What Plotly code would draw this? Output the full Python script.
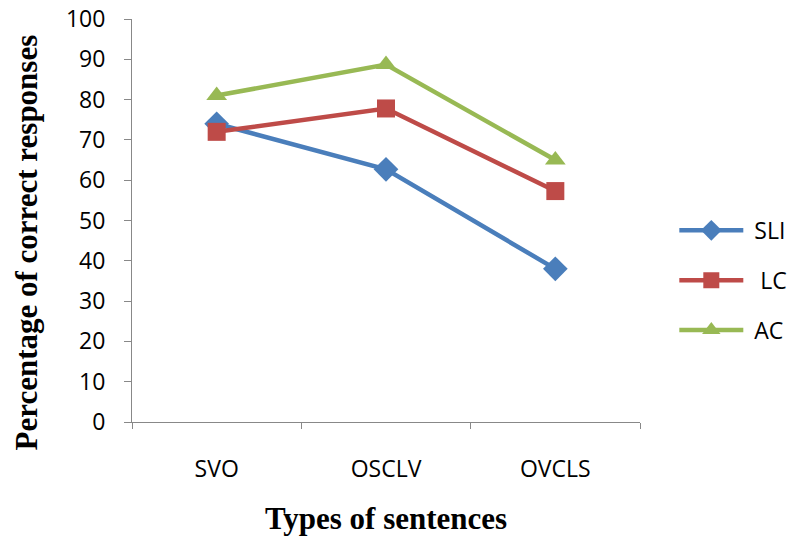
import plotly.graph_objects as go

# Sentence types and percentage of correct responses per group
categories = ["SVO", "OSCLV", "OVCLS"]
sli_values = [74.0, 62.7, 38.0]
lc_values = [72.0, 77.8, 57.3]
ac_values = [81.0, 88.7, 65.0]
y_ticks = [0, 10, 20, 30, 40, 50, 60, 70, 80, 90, 100]

series = [
    ("\u00a0SLI", sli_values, "#4A7EBB", "diamond", 19),
    ("\u00a0\u00a0LC", lc_values, "#BE4B48", "square", 18),
    ("\u00a0AC", ac_values, "#98B954", "triangle-up", 18),
]

fig = go.Figure()
for i, (name, vals, color, symbol, size) in enumerate(series):
    fig.add_trace(go.Scatter(
        x=categories, y=vals, name=name, mode="lines+markers",
        line=dict(color=color, width=4.5),
        marker=dict(symbol=symbol, size=size, color=color),
        legendgroup=f"g{i}",
    ))

sans = "Open Sans, Liberation Sans, sans-serif"
axis_font = dict(family=sans, size=23, color="#000000")
title_font = dict(family="Liberation Serif, Times New Roman, serif", size=31, color="#000000")

fig.update_layout(
    width=798, height=536,
    margin=dict(l=132, r=158, t=19, b=114, autoexpand=False),
    paper_bgcolor="white", plot_bgcolor="white",
    showlegend=True,
    legend=dict(
        xref="container", yref="container",
        x=0.845, y=0.477, xanchor="left", yanchor="middle",
        font=dict(family=sans, size=23, color="#000000"),
        tracegroupgap=17, itemwidth=64, bgcolor="rgba(0,0,0,0)",
    ),
    xaxis=dict(
        type="category", range=[-0.5, 2.5], automargin=False,
        showline=True, linecolor="#888888", linewidth=1,
        ticks="outside", tickson="boundaries", ticklen=6, tickcolor="#888888",
        tickfont=axis_font, ticklabelstandoff=26,
        showgrid=False, zeroline=False,
        title=dict(text="<b>Types of sentences</b>", font=title_font, standoff=28),
    ),
    yaxis=dict(
        range=[0, 100], tickvals=y_ticks, automargin=False,
        showline=True, linecolor="#888888", linewidth=1,
        ticks="outside", ticklen=7, tickcolor="#888888",
        tickfont=axis_font, ticklabelstandoff=14,
        showgrid=False, zeroline=False,
    ),
    annotations=[dict(
        text="<b>Percentage of correct responses</b>", font=title_font,
        textangle=-90, xref="paper", yref="paper",
        x=-0.207, y=0.445, xanchor="center", yanchor="middle",
        showarrow=False,
    )],
)

fig.write_html("out.html")
